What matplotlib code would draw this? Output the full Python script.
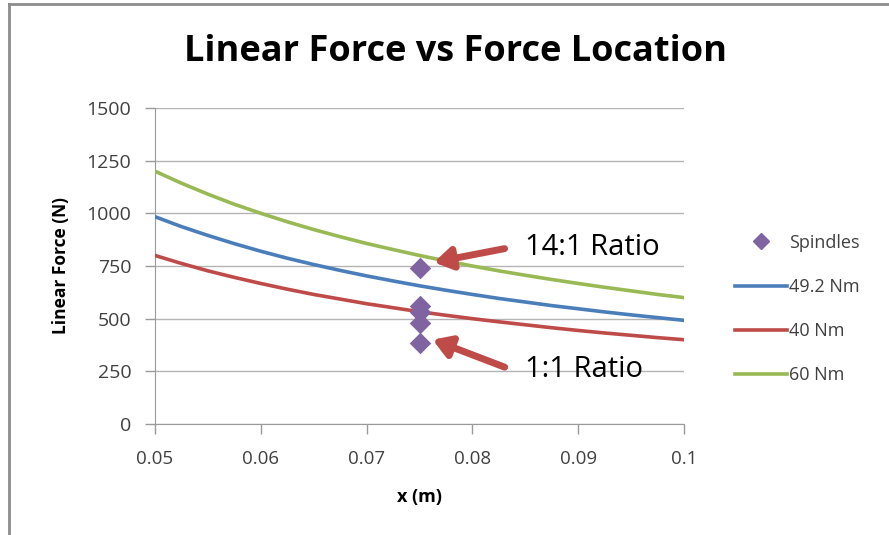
import matplotlib.pyplot as plt
from matplotlib.lines import Line2D

# values
x_m = [0.05, 0.0525, 0.055, 0.0575, 0.06, 0.0625, 0.065, 0.0675, 0.07,
       0.0725, 0.075, 0.0775, 0.08, 0.0825, 0.085, 0.0875, 0.09, 0.0925,
       0.095, 0.0975, 0.1]
force_49 = [984, 937, 895, 856, 820, 787, 757, 729, 703, 679, 656, 635,
            615, 596, 579, 562, 547, 532, 518, 505, 492]
force_40 = [800, 762, 727, 696, 667, 640, 615, 593, 571, 552, 533, 516,
            500, 485, 471, 457, 444, 432, 421, 410, 400]
force_60 = [1200, 1143, 1091, 1043, 1000, 960, 923, 889, 857, 828, 800,
            774, 750, 727, 706, 686, 667, 649, 632, 615, 600]

spindle_x = [0.075, 0.075, 0.075, 0.075, 0.075]
spindle_y = [740, 560, 530, 480, 385]

y_ticks = [0, 250, 500, 750, 1000, 1250, 1500]
x_ticks = [0.05, 0.06, 0.07, 0.08, 0.09, 0.1]
x_tick_labels = ['0.05', '0.06', '0.07', '0.08', '0.09', '0.1']

blue = '#4a7ebb'
red = '#be4b48'
green = '#98b954'
purple = '#8064a2'
grid_grey = '#b4b4b4'

plt.rcParams['font.family'] = ['Open Sans', 'DejaVu Sans']

fig = plt.figure(figsize=(8.89, 5.35), dpi=100)
ax = fig.add_axes([155 / 889, 1 - 424 / 535, (684 - 155) / 889, (424 - 108) / 535])

ax.plot(x_m, force_49, color=blue, lw=2.6, label='49.2 Nm', zorder=3)
ax.plot(x_m, force_40, color=red, lw=2.6, label='40 Nm', zorder=3)
ax.plot(x_m, force_60, color=green, lw=2.6, label='60 Nm', zorder=3)
ax.scatter(spindle_x, spindle_y, marker='D', s=120, color=purple,
           label='Spindles', zorder=4, linewidths=0)

ax.set_xlim(0.05, 0.1)
ax.set_ylim(0, 1500)
ax.set_xticks(x_ticks)
ax.set_xticklabels(x_tick_labels)
ax.set_yticks(y_ticks)
ax.grid(axis='y', color=grid_grey, lw=1)
ax.set_axisbelow(True)
for side in ['top', 'right']:
    ax.spines[side].set_visible(False)
for side in ['left', 'bottom']:
    ax.spines[side].set_color('#9a9a9a')
ax.tick_params(colors='#9a9a9a', labelcolor='#404040', length=7, width=1)
ax.tick_params(axis='y', labelsize=14, pad=10)
ax.tick_params(axis='x', labelsize=13.5, pad=12)

ax.set_xlabel('x (m)', fontsize=13, fontweight='bold', labelpad=14)
ax.set_ylabel('Linear Force (N)', fontsize=12.5, fontweight='bold', labelpad=12)

fig.text(455 / 889, 1 - 52 / 535, 'Linear Force vs Force Location',
         fontsize=26, fontweight='bold', ha='center', va='center')

# arrows pointing to the spindle markers
arrow_style = dict(arrowstyle='-|>,head_length=0.8,head_width=0.5',
                   color=red, lw=5, mutation_scale=13)
ax.annotate('', xy=(0.0761, 765), xytext=(0.0833, 835),
            arrowprops=arrow_style)
ax.annotate('', xy=(0.0760, 405), xytext=(0.0833, 265),
            arrowprops=arrow_style)
ax.text(0.085, 838, '14:1 Ratio', fontsize=21, va='center', ha='left')
ax.text(0.085, 258, '1:1 Ratio', fontsize=21, va='center', ha='left')

handles = [
    Line2D([], [], marker='D', ls='none', color=purple, markersize=8),
    Line2D([], [], color=blue, lw=2.6),
    Line2D([], [], color=red, lw=2.6),
    Line2D([], [], color=green, lw=2.6),
]
fig.legend(handles, ['Spindles', '49.2 Nm', '40 Nm', '60 Nm'],
           loc='center left', bbox_to_anchor=(726 / 889, 1 - 309 / 535),
           frameon=False, fontsize=13, labelspacing=1.45,
           handlelength=2.9, handletextpad=0.1, labelcolor='#404040',
           borderpad=0)

# chart area border (only top and left visible in the crop)
fig.add_artist(Line2D([9 / 889, 9 / 889], [0, 1 - 4 / 535],
                      color='#8c8c8c', lw=2, transform=fig.transFigure))
fig.add_artist(Line2D([9 / 889, 1], [1 - 4 / 535, 1 - 4 / 535],
                      color='#8c8c8c', lw=2, transform=fig.transFigure))

fig.savefig('out.png', dpi=100)
